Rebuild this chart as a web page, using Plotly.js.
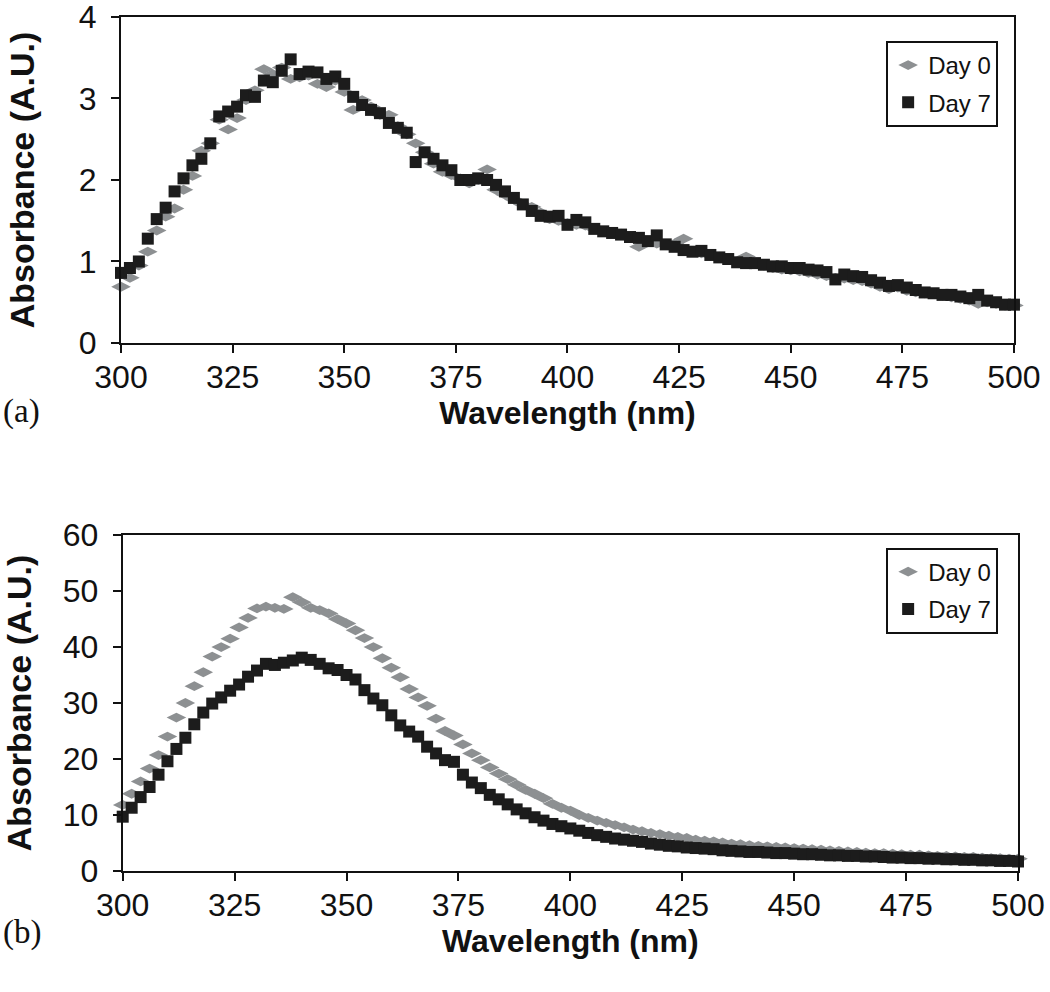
<!DOCTYPE html>
<html>
<head>
<meta charset="utf-8">
<script src="https://cdn.plot.ly/plotly-3.0.1.min.js"></script>
<style>html,body{margin:0;padding:0;background:#fff;}#chart{width:1050px;height:992px;}</style>
</head>
<body>
<div id="chart"></div>
<script>
// Wavelength (nm), 2 nm steps
const wavelength = [300,302,304,306,308,310,312,314,316,318,320,322,324,326,328,330,332,334,336,338,340,342,344,346,348,350,352,354,356,358,360,362,364,366,368,370,372,374,376,378,380,382,384,386,388,390,392,394,396,398,400,402,404,406,408,410,412,414,416,418,420,422,424,426,428,430,432,434,436,438,440,442,444,446,448,450,452,454,456,458,460,462,464,466,468,470,472,474,476,478,480,482,484,486,488,490,492,494,496,498,500];

// Panel (a)
const panelA_day0 = [0.69,0.80,0.95,1.12,1.38,1.55,1.65,1.88,2.05,2.36,2.45,2.74,2.62,2.76,2.98,3.10,3.36,3.30,3.38,3.24,3.26,3.28,3.18,3.14,3.22,3.08,2.86,2.98,2.90,2.80,2.80,2.66,2.56,2.45,2.34,2.20,2.10,2.06,2.02,1.96,2.00,2.13,1.88,1.82,1.76,1.70,1.67,1.60,1.52,1.50,1.47,1.45,1.44,1.40,1.37,1.35,1.34,1.29,1.18,1.24,1.22,1.20,1.22,1.28,1.12,1.10,1.07,1.06,1.02,1.00,1.06,0.97,0.95,0.92,0.90,0.89,0.88,0.86,0.84,0.82,0.80,0.79,0.77,0.76,0.73,0.69,0.66,0.68,0.64,0.62,0.61,0.60,0.58,0.56,0.54,0.52,0.48,0.50,0.48,0.46,0.46];
const panelA_day7 = [0.86,0.92,1.00,1.28,1.52,1.66,1.86,2.02,2.18,2.26,2.45,2.78,2.84,2.90,3.04,3.02,3.22,3.20,3.34,3.48,3.30,3.33,3.32,3.24,3.27,3.18,3.02,2.92,2.86,2.82,2.70,2.64,2.58,2.22,2.34,2.26,2.18,2.12,2.00,2.00,2.02,2.00,1.94,1.86,1.78,1.70,1.62,1.56,1.55,1.56,1.45,1.51,1.48,1.40,1.37,1.35,1.33,1.30,1.29,1.25,1.32,1.21,1.18,1.14,1.12,1.13,1.08,1.05,1.03,0.99,0.98,0.98,0.96,0.94,0.94,0.92,0.92,0.90,0.89,0.87,0.78,0.84,0.82,0.81,0.77,0.74,0.70,0.71,0.68,0.65,0.62,0.61,0.59,0.59,0.57,0.55,0.59,0.52,0.50,0.47,0.47];

// Panel (b)
const panelB_day0 = [11.8,13.8,16.0,18.3,20.7,24.0,27.4,30.0,33.0,35.5,38.3,40.0,41.5,43.5,45.2,46.9,47.2,47.0,46.8,48.9,48.0,47.0,46.6,46.0,45.0,44.2,43.0,41.6,40.0,38.0,36.3,34.6,32.5,31.0,29.5,27.2,25.0,24.2,22.6,21.0,19.8,18.5,17.4,16.4,15.4,14.5,13.8,13.0,12.0,11.3,10.8,10.0,9.5,9.0,8.6,8.2,7.8,7.4,7.1,6.8,6.6,6.3,6.1,5.9,5.6,5.4,5.3,5.1,4.9,4.8,4.6,4.5,4.4,4.3,4.2,4.1,4.0,3.9,3.8,3.7,3.6,3.5,3.4,3.3,3.2,3.2,3.1,3.0,2.9,2.9,2.8,2.7,2.7,2.6,2.5,2.5,2.4,2.3,2.3,2.2,2.2];
const panelB_day7 = [9.7,11.3,13.2,15.0,17.2,19.6,21.8,23.8,26.2,28.3,29.9,31.0,32.2,33.3,34.7,35.8,37.0,36.8,37.2,37.6,38.1,37.7,37.0,36.2,35.9,35.0,34.2,32.3,30.8,29.6,27.8,26.0,24.9,24.0,22.2,21.0,19.8,19.5,17.2,15.8,14.8,13.6,12.8,11.9,11.0,10.3,9.6,9.0,8.4,8.0,7.6,7.2,6.8,6.4,6.1,5.8,5.6,5.4,5.2,4.9,4.7,4.5,4.4,4.2,4.1,4.0,3.9,3.7,3.6,3.5,3.4,3.4,3.3,3.2,3.2,3.1,3.0,3.0,2.9,2.8,2.8,2.7,2.7,2.6,2.6,2.5,2.4,2.4,2.3,2.3,2.2,2.2,2.1,2.1,2.0,2.0,1.9,1.9,1.8,1.8,1.7];

const seriesNames = ['Day 0', 'Day 7'];
const xTickVals = [300,325,350,375,400,425,450,475,500];
const yTickValsA = [0,1,2,3,4];
const yTickValsB = [0,10,20,30,40,50,60];

const GRAY = '#8d9092';
const BLACK = '#1c1c1c';
const FONT = '"Liberation Sans", Arial, sans-serif';

function mk(y, name, xa, ya, leg, isDay0) {
  return {
    x: wavelength, y: y, name: name, type: 'scatter', mode: 'markers',
    xaxis: xa, yaxis: ya, legend: leg, legendgroup: leg + name,
    cliponaxis: false,
    marker: isDay0
      ? {symbol: 'diamond-wide', size: 14, color: GRAY, line: {width: 0}}
      : {symbol: 'square', size: 12, color: BLACK, line: {width: 0}}
  };
}

const traces = [
  mk(panelA_day0, seriesNames[0], 'x', 'y', 'legend', true),
  mk(panelA_day7, seriesNames[1], 'x', 'y', 'legend', false),
  mk(panelB_day0, seriesNames[0], 'x2', 'y2', 'legend2', true),
  mk(panelB_day7, seriesNames[1], 'x2', 'y2', 'legend2', false)
];

const axisCommon = {
  showline: true, linecolor: '#111', linewidth: 2, mirror: true,
  ticks: 'outside', ticklen: 8, tickwidth: 2, tickcolor: '#111',
  showgrid: false, zeroline: false, automargin: false,
  ticklabeloverflow: 'allow',
  tickfont: {family: FONT, size: 32, color: '#111'}
};

function xAxis(domain, anchor) {
  return Object.assign({}, axisCommon, {
    domain: domain, anchor: anchor, range: [300, 500],
    tickmode: 'array', tickvals: xTickVals, ticklabelstandoff: -3,
    title: {text: '<b>Wavelength (nm)</b>', font: {family: FONT, size: 32, color: '#111'}, standoff: 0}
  });
}
function yAxis(domain, anchor, range, tickvals) {
  return Object.assign({}, axisCommon, {
    domain: domain, anchor: anchor, range: range,
    tickmode: 'array', tickvals: tickvals,
    ticklabelstandoff: 8,
    title: {text: '<b>Absorbance (A.U.)</b>', font: {family: FONT, size: 34, color: '#111'}, standoff: 34}
  });
}

const legendCommon = {
  bgcolor: '#fff', bordercolor: '#111', borderwidth: 2,
  font: {family: FONT, size: 24, color: '#111'},
  itemwidth: 30,
  xanchor: 'left', yanchor: 'top', tracegroupgap: 3, traceorder: 'grouped'
};

const layout = {
  width: 1050, height: 992,
  margin: {l: 121, r: 32, t: 17, b: 121},
  paper_bgcolor: '#fff', plot_bgcolor: '#fff',
  showlegend: true,
  xaxis: xAxis([0, 0.9955], 'y'),
  yaxis: yAxis([0.6183, 1], 'x', [0, 4], yTickValsA),
  xaxis2: xAxis([0.0019, 1], 'y2'),
  yaxis2: yAxis([0, 0.3934], 'x2', [0, 60], yTickValsB),
  legend: Object.assign({}, legendCommon, {x: 0.853, y: 0.9719}),
  legend2: Object.assign({}, legendCommon, {x: 0.853, y: 0.3787}),
  annotations: [
    {text: '(a)', xref: 'paper', yref: 'paper', x: -0.134, y: 0.538, xanchor: 'left', yanchor: 'middle', showarrow: false,
     font: {family: '"Liberation Serif", "Times New Roman", serif', size: 33, color: '#111'}},
    {text: '(b)', xref: 'paper', yref: 'paper', x: -0.134, y: -0.072, xanchor: 'left', yanchor: 'middle', showarrow: false,
     font: {family: '"Liberation Serif", "Times New Roman", serif', size: 33, color: '#111'}}
  ]
};

Plotly.newPlot('chart', traces, layout, {displayModeBar: false, staticPlot: true});
</script>
</body>
</html>
